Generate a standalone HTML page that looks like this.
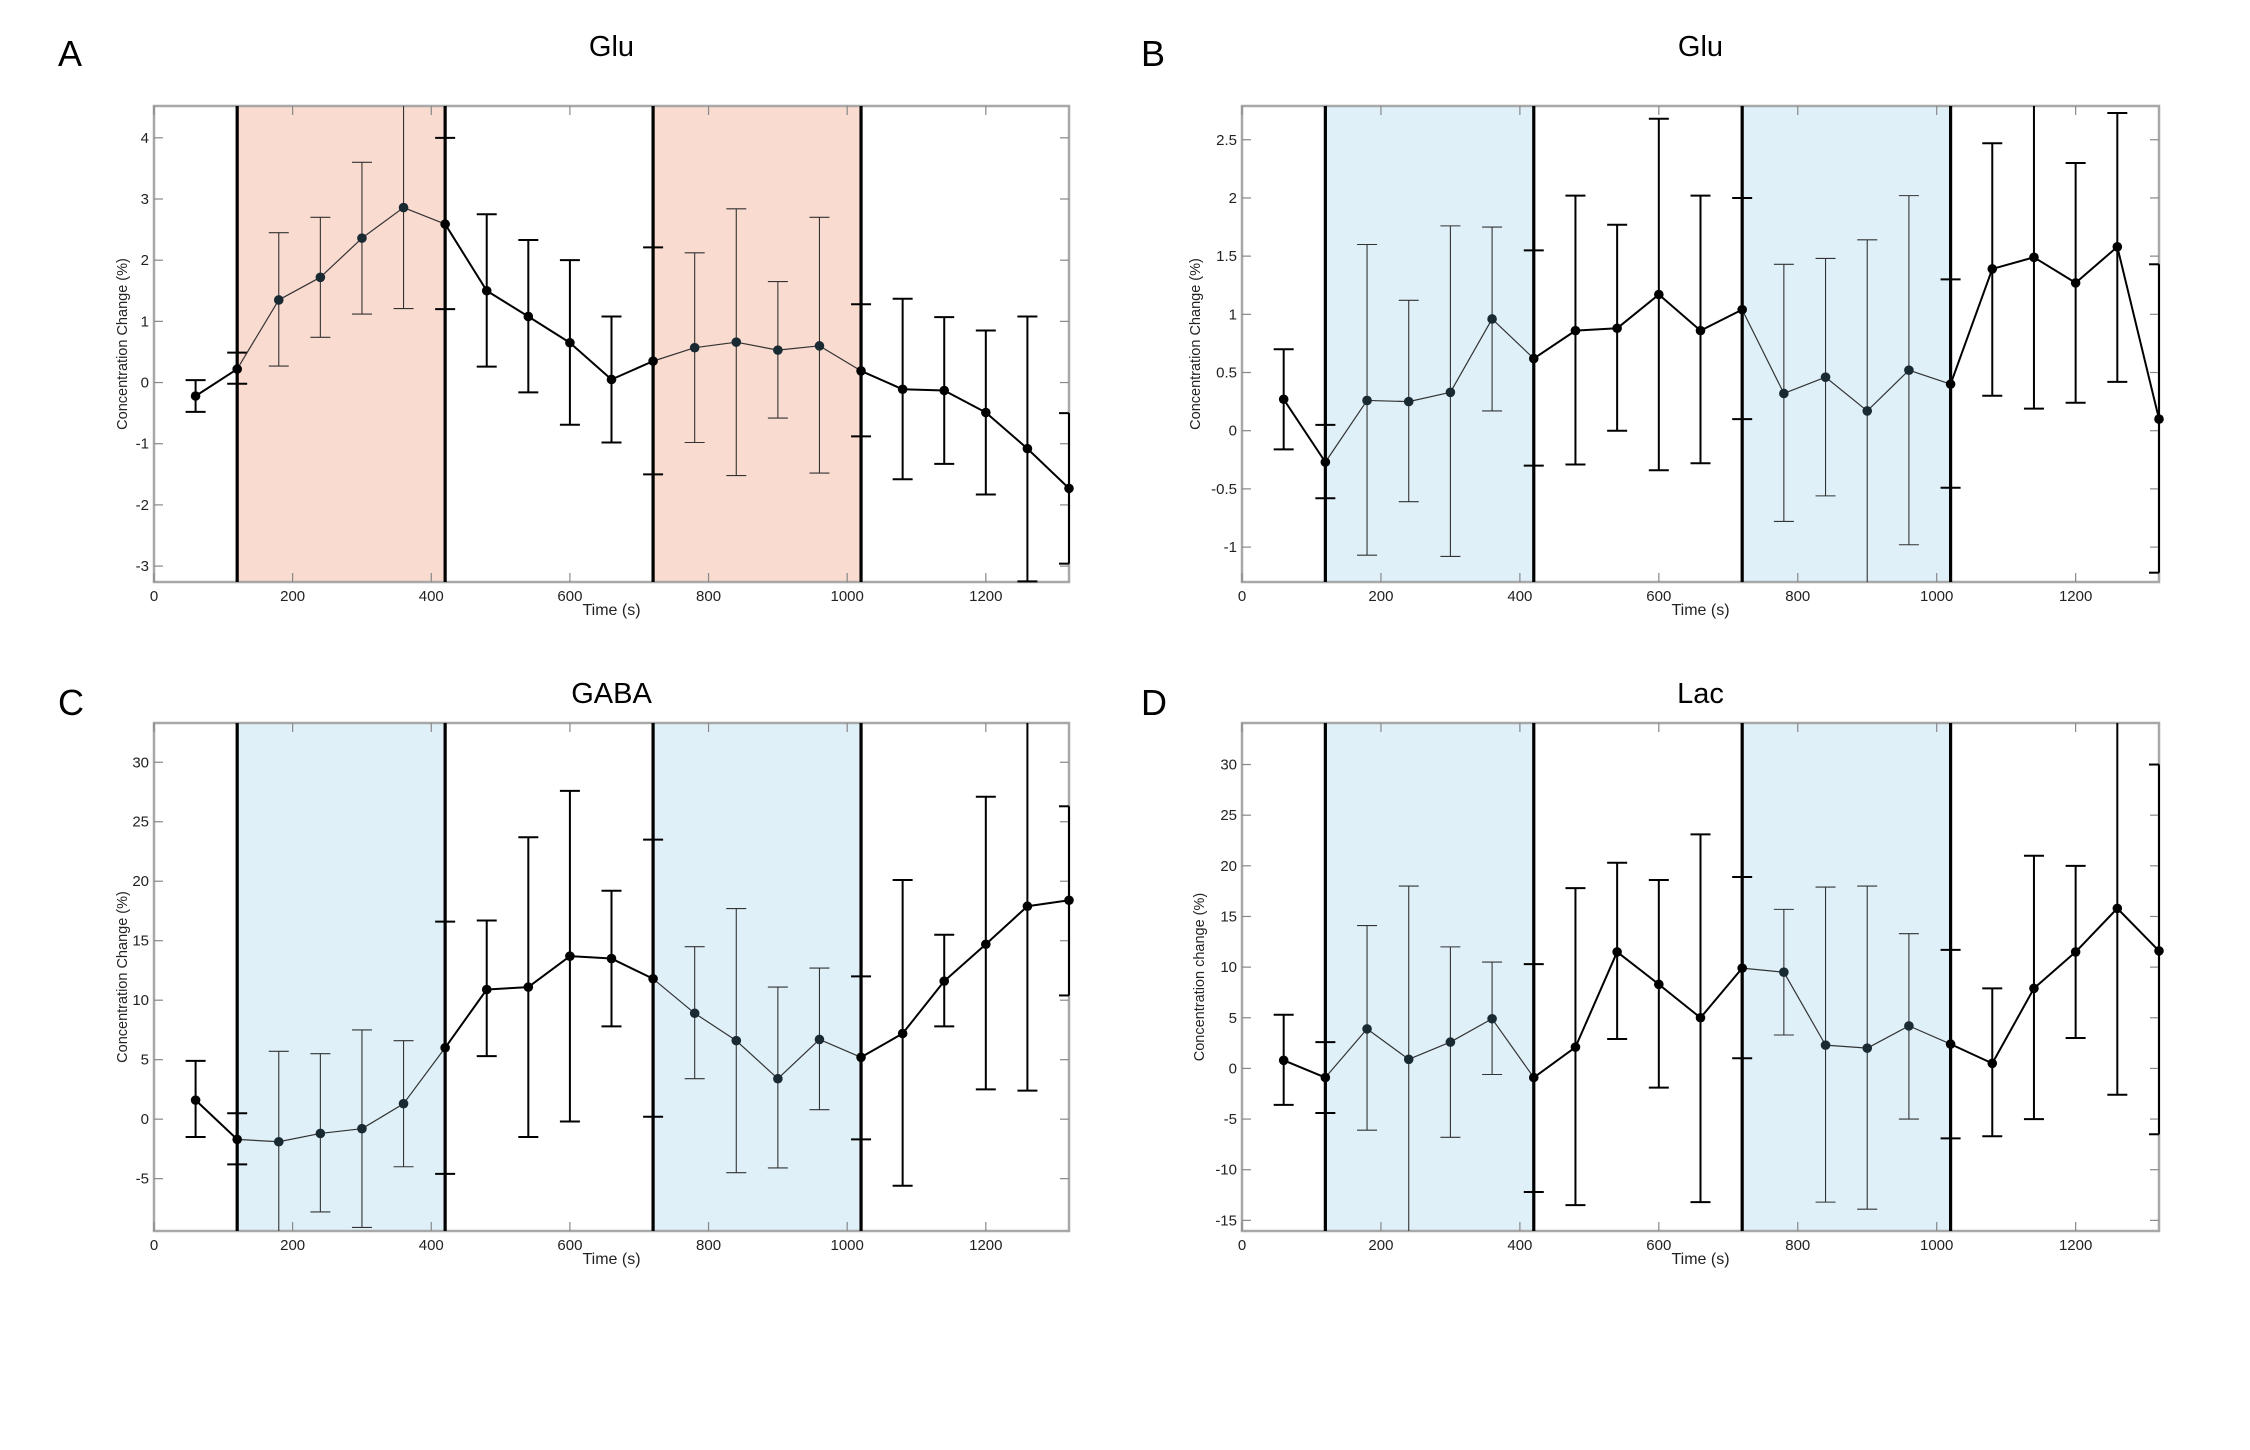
<!DOCTYPE html>
<html><head><meta charset="utf-8">
<style>
html,body{margin:0;padding:0;background:#fff;}
svg{display:block;}
text{font-family:"Liberation Sans",sans-serif;}
</style></head>
<body>
<svg id="fig" width="2250" height="1450" viewBox="0 0 2250 1450" xmlns="http://www.w3.org/2000/svg"></svg>
<script>
const times = [60,120,180,240,300,360,420,480,540,600,660,720,780,840,900,960,1020,1080,1140,1200,1260,1320];
const xTicks = [0,200,400,600,800,1000,1200];
const stimBlocks = [[120,420],[720,1020]];

const meanA = [-0.22,0.22,1.35,1.72,2.36,2.86,2.59,1.50,1.08,0.65,0.05,0.35,0.57,0.66,0.53,0.60,0.19,-0.11,-0.13,-0.49,-1.08,-1.73];
const hiA = [0.04,0.49,2.45,2.70,3.60,4.52,4.0,2.75,2.33,2.0,1.08,2.21,2.12,2.84,1.65,2.70,1.28,1.37,1.07,0.85,1.08,-0.5];
const loA = [-0.48,-0.02,0.27,0.74,1.12,1.21,1.2,0.26,-0.16,-0.69,-0.98,-1.50,-0.98,-1.52,-0.58,-1.48,-0.88,-1.58,-1.33,-1.83,-3.25,-2.96];
const yTicksA = [-3,-2,-1,0,1,2,3,4];

const meanB = [0.27,-0.27,0.26,0.25,0.33,0.96,0.62,0.86,0.88,1.17,0.86,1.04,0.32,0.46,0.17,0.52,0.40,1.39,1.49,1.27,1.58,0.10];
const hiB = [0.70,0.05,1.60,1.12,1.76,1.75,1.55,2.02,1.77,2.68,2.02,2.0,1.43,1.48,1.64,2.02,1.30,2.47,2.79,2.30,2.73,1.43];
const loB = [-0.16,-0.58,-1.07,-0.61,-1.08,0.17,-0.30,-0.29,0.0,-0.34,-0.28,0.10,-0.78,-0.56,-1.3,-0.98,-0.49,0.30,0.19,0.24,0.42,-1.22];
const yTicksB = [-1,-0.5,0,0.5,1,1.5,2,2.5];

const meanC = [1.6,-1.7,-1.9,-1.2,-0.8,1.3,6.0,10.9,11.1,13.7,13.5,11.8,8.9,6.6,3.4,6.7,5.2,7.2,11.6,14.7,17.9,18.4];
const hiC = [4.9,0.5,5.7,5.5,7.5,6.6,16.6,16.7,23.7,27.6,19.2,23.5,14.5,17.7,11.1,12.7,12.0,20.1,15.5,27.1,33.3,26.3];
const loC = [-1.5,-3.8,-9.4,-7.8,-9.1,-4.0,-4.6,5.3,-1.5,-0.2,7.8,0.2,3.4,-4.5,-4.1,0.8,-1.7,-5.6,7.8,2.5,2.4,10.4];
const yTicksC = [-5,0,5,10,15,20,25,30];

const meanD = [0.8,-0.9,3.9,0.9,2.6,4.9,-0.9,2.1,11.5,8.3,5.0,9.9,9.5,2.3,2.0,4.2,2.4,0.5,7.9,11.5,15.8,11.6];
const hiD = [5.3,2.6,14.1,18.0,12.0,10.5,10.3,17.8,20.3,18.6,23.1,18.9,15.7,17.9,18.0,13.3,11.7,7.9,21.0,20.0,34.1,30.0];
const loD = [-3.6,-4.4,-6.1,-16.05,-6.8,-0.6,-12.2,-13.5,2.9,-1.9,-13.2,1.0,3.3,-13.2,-13.9,-5.0,-6.9,-6.7,-5.0,3.0,-2.6,-6.5];
const yTicksD = [-15,-10,-5,0,5,10,15,20,25,30];

const NS='http://www.w3.org/2000/svg';
const svg=document.getElementById('fig');
function mk(tag,attrs,parent){const e=document.createElementNS(NS,tag);for(const k in attrs)e.setAttribute(k,attrs[k]);(parent||svg).appendChild(e);return e;}

function panel(o){
  const g=mk('g',{});
  
  
  const L=o.L,R=o.R,T=o.T,B=o.B;
  const xs=v=>L+(v-0)/(1320-0)*(R-L);
  const ys=v=>B-(v-o.ymin)/(o.ymax-o.ymin)*(B-T);
  const clampY=v=>Math.max(T,Math.min(B,ys(v)));
  stimBlocks.forEach((b,i)=>{
    const r=mk('rect',{x:xs(b[0]),y:T,width:xs(b[1])-xs(b[0]),height:B-T,fill:o.shade},g);
    
    
  });
  const box=mk('rect',{x:L,y:T,width:R-L,height:B-T,fill:'none',stroke:'#a8a8a8','stroke-width':2.5},g);
  
  
  xTicks.forEach(t=>{
    const x=xs(t);
    mk('line',{x1:x,y1:B,x2:x,y2:B-9,stroke:'#888','stroke-width':1.2},g);
    mk('line',{x1:x,y1:T,x2:x,y2:T+9,stroke:'#888','stroke-width':1.2},g);
    const tx=mk('text',{x:x,y:B+19,'font-size':15,'text-anchor':'middle',fill:'#222'},g);
    tx.textContent=t;
    
    
  });
  o.yTicks.forEach(t=>{
    const y=ys(t);
    mk('line',{x1:L,y1:y,x2:L+9,y2:y,stroke:'#888','stroke-width':1.2},g);
    mk('line',{x1:R,y1:y,x2:R-9,y2:y,stroke:'#888','stroke-width':1.2},g);
    const ty=mk('text',{x:L-5,y:y+5,'font-size':15,'text-anchor':'end',fill:'#222'},g);
    ty.textContent=t;
    
    
  });
  stimBlocks.forEach(b=>b.forEach(v=>{
    const l=mk('line',{x1:xs(v),y1:T,x2:xs(v),y2:B,stroke:'#000','stroke-width':3.2},g);
    
    
  }));
  const inStim=v=>stimBlocks.some(b=>v>b[0]&&v<b[1]);
  times.forEach((t,i)=>{
    const x=xs(t);
    const w=inStim(t)?1.1:2;
    const col=inStim(t)?'#333':'#000';
    const e=mk('g',{stroke:col,'stroke-width':w},g);
    
    
    mk('line',{x1:x,y1:clampY(o.hi[i]),x2:x,y2:clampY(o.lo[i])},e);
    const cw=10;
    if(o.hi[i]<o.ymax) mk('line',{x1:Math.max(L,x-cw),y1:ys(o.hi[i]),x2:Math.min(R,x+cw),y2:ys(o.hi[i])},e);
    if(o.lo[i]>o.ymin) mk('line',{x1:Math.max(L,x-cw),y1:ys(o.lo[i]),x2:Math.min(R,x+cw),y2:ys(o.lo[i])},e);
  });
  for(let i=0;i<times.length-1;i++){
    const mid=(times[i]+times[i+1])/2;
    const s=mk('line',{x1:xs(times[i]),y1:ys(o.mean[i]),x2:xs(times[i+1]),y2:ys(o.mean[i+1]),stroke:inStim(mid)?'#333':'#000','stroke-width':inStim(mid)?1.2:2},g);
    
    
  }
  times.forEach((t,i)=>{
    const c=mk('circle',{cx:xs(t),cy:ys(o.mean[i]),r:4.8,fill:inStim(t)?'#1a2a33':'#000'},g);
    
    
  });
  const title=mk('text',{x:(L+R)/2,y:o.titleY,'font-size':29,'text-anchor':'middle',fill:'#000'},g);
  title.textContent=o.title;
  
  
  const letter=mk('text',{x:o.letterX,y:o.letterY,'font-size':36,fill:'#000'},g);
  letter.textContent=o.id;
  
  
  const xl=mk('text',{x:(L+R)/2,y:B+33,'font-size':16,'text-anchor':'middle',fill:'#222'},g);
  xl.textContent='Time (s)';
  
  
  const yl=mk('text',{x:0,y:0,'font-size':14.5,'text-anchor':'middle',fill:'#222',transform:'translate('+(L-o.ylOff)+','+((T+B)/2)+') rotate(-90)'},g);
  yl.textContent=o.ylabel;
  
  
}

panel({id:'A',title:'Glu',L:154,R:1069,T:106,B:582,titleY:56,letterY:66,ylOff:27,ymin:-3.26,ymax:4.52,yTicks:yTicksA,mean:meanA,hi:hiA,lo:loA,shade:'#fadbd0',letterX:58,ylabel:'Concentration Change (%)'});
panel({id:'B',title:'Glu',L:1242,R:2159,T:106,B:582,titleY:56,letterY:66,ylOff:42,ymin:-1.3,ymax:2.79,yTicks:yTicksB,mean:meanB,hi:hiB,lo:loB,shade:'#dff0f9',letterX:1141,ylabel:'Concentration Change (%)'});
panel({id:'C',title:'GABA',L:154,R:1069,T:723,B:1231,titleY:703,letterY:715,ylOff:27,ymin:-9.4,ymax:33.3,yTicks:yTicksC,mean:meanC,hi:hiC,lo:loC,shade:'#dff0f9',letterX:58,ylabel:'Concentration Change (%)'});
panel({id:'D',title:'Lac',L:1242,R:2159,T:723,B:1231,titleY:703,letterY:715,ylOff:38,ymin:-16.05,ymax:34.1,yTicks:yTicksD,mean:meanD,hi:hiD,lo:loD,shade:'#dff0f9',letterX:1141,ylabel:'Concentration change (%)'});
</script>
</body></html>
